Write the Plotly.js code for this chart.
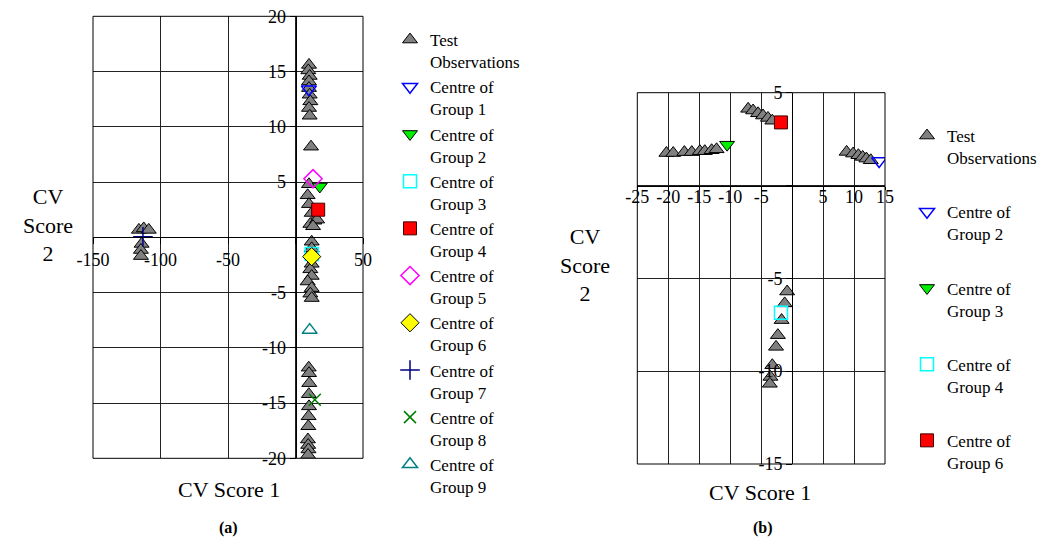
<!DOCTYPE html>
<html><head><meta charset="utf-8">
<script src="https://cdn.plot.ly/plotly-3.0.1.min.js"></script>
<style>html,body{margin:0;padding:0;background:#fff}#chart{width:1054px;height:550px}</style>
</head><body><div id="chart"></div>
<script>
// ---------- Panel (a) data ----------
const aTestX = [-116, -112.4, -108.7, -114, -114.5, -114.5,
  10, 9.5, 10.5, 10, 10, 10.5, 11, 10, 10.5,
  11.5,
  10, 9, 10, 12, 14, 11, 16, 13,
  12, 12, 12, 11, 12, 9, 12, 11, 12,
  9.8, 10, 10.2, 9.9, 10, 9.7, 9.5, 9.2, 9.4, 9.6, 9.3];
const aTestY = [0.67, 0.8, 0.67, -0.6, -1.15, -1.7,
  15.6, 15.1, 14.6, 14.1, 13.5, 12.9, 12.3, 11.7, 11.0,
  8.2,
  4.8, 3.8, 3.0, 2.2, 1.5, 1.2, 1.6, 1.0,
  -0.4, -1.0, -2.4, -2.9, -3.5, -4.0, -4.6, -5.1, -5.5,
  -11.8, -12.3, -13.2, -14.2, -15.3, -16.2, -17.1, -18.3, -18.8, -19.2, -19.7];
const aCentreNames = ['Centre of<br>Group 1', 'Centre of<br>Group 2', 'Centre of<br>Group 3',
  'Centre of<br>Group 4', 'Centre of<br>Group 5', 'Centre of<br>Group 6',
  'Centre of<br>Group 7', 'Centre of<br>Group 8', 'Centre of<br>Group 9'];
const aCentreX = [9.9, 18, 12, 16.8, 13, 12, -113, 14.3, 10.5];
const aCentreY = [13.4, 4.6, -1.5, 2.5, 5.3, -1.75, 0.05, -14.7, -8.4];
const aXTicks = [-150, -100, -50, 0, 50];
const aXTickText = ['-150', '-100', '-50', '', '50'];
const aYTicks = [-20, -15, -10, -5, 0, 5, 10, 15, 20];
const aYTickText = ['-20', '-15', '-10', '-5', '', '5', '10', '15', '20'];

// ---------- Panel (b) data ----------
const bTestX = [-20.3, -19.2, -17.4, -16.2, -14.9, -14.1, -13.0, -12.2,
  -7.1, -6.3, -5.5, -4.7, -3.9, -3.2,
  8.8, 9.85, 10.7, 11.4, 12.0, 12.7,
  -0.8, -1.2, -1.7, -2.3, -2.6, -3.2, -3.5, -3.6];
const bTestY = [1.75, 1.75, 1.8, 1.8, 1.85, 1.85, 1.9, 1.95,
  4.13, 4.04, 3.89, 3.77, 3.64, 3.49,
  1.81, 1.72, 1.63, 1.54, 1.45, 1.36,
  -5.71, -6.35, -7.25, -8.06, -8.69, -9.68, -10.31, -10.68];
const bCentreNames = ['Centre of<br>Group 2', 'Centre of<br>Group 3', 'Centre of<br>Group 4', 'Centre of<br>Group 6'];
const bCentreX = [14.05, -10.5, -1.8, -1.8];
const bCentreY = [1.32, 2.2, -6.85, 3.4];
const bXTicks = [-25, -20, -15, -10, -5, 0, 5, 10, 15];
const bXTickText = ['-25', '-20', '-15', '-10', '-5', '', '5', '10', '15'];
const bYTicks = [-15, -10, -5, 0, 5];
const bYTickText = ['-15', '-10', '-5', '', '5'];

const testName = 'Test<br>Observations';

// ---------- styles ----------
const FONT = 'Liberation Serif';
const W = 1054, H = 550;
const testMarker = {symbol: 'triangle-up', size: 13, color: '#808080', line: {color: '#000', width: 1}};
const aStyles = [
  {symbol: 'triangle-down-open', size: 13, color: '#0000ff', line: {color: '#0000ff', width: 1.5}},
  {symbol: 'triangle-down', size: 13, color: '#00ee00', line: {color: '#000', width: 1}},
  {symbol: 'square-open', size: 13, color: '#00ffff', line: {color: '#00ffff', width: 1.5}},
  {symbol: 'square', size: 13, color: '#ff0000', line: {color: '#400000', width: 1}},
  {symbol: 'diamond-open', size: 14, color: '#ff00ff', line: {color: '#ff00ff', width: 1.5}},
  {symbol: 'diamond', size: 14, color: '#ffff00', line: {color: '#000', width: 1}},
  {symbol: 'cross-thin-open', size: 14, color: '#000080', line: {color: '#000080', width: 1.5}},
  {symbol: 'x-thin-open', size: 12, color: '#008000', line: {color: '#008000', width: 1.5}},
  {symbol: 'triangle-up-open', size: 13, color: '#008080', line: {color: '#008080', width: 1.5}}
];
const bStyles = [aStyles[0], aStyles[1], aStyles[2], aStyles[3]];

const traces = [];
traces.push({type: 'scatter', mode: 'markers', x: aTestX, y: aTestY, name: testName,
  marker: testMarker, xaxis: 'x', yaxis: 'y', legend: 'legend'});
aCentreNames.forEach((n, i) => traces.push({type: 'scatter', mode: 'markers',
  x: [aCentreX[i]], y: [aCentreY[i]], name: n, marker: aStyles[i], xaxis: 'x', yaxis: 'y', legend: 'legend'}));
traces.push({type: 'scatter', mode: 'markers', x: bTestX, y: bTestY, name: testName,
  marker: testMarker, xaxis: 'x2', yaxis: 'y2', legend: 'legend2', legendgroup: 'b0'});
bCentreNames.forEach((n, i) => traces.push({type: 'scatter', mode: 'markers',
  x: [bCentreX[i]], y: [bCentreY[i]], name: n, marker: bStyles[i], xaxis: 'x2', yaxis: 'y2',
  legend: 'legend2', legendgroup: 'b' + (i + 1)}));

function pos(dom, range) { return dom[0] + (0 - range[0]) / (range[1] - range[0]) * (dom[1] - dom[0]); }

const aXDom = [93 / W, 363 / W], aYDom = [1 - 458.3 / H, 1 - 16.3 / H];
const bXDom = [637.3 / W, 885 / W], bYDom = [1 - 464 / H, 1 - 92.7 / H];
const aXR = [-150, 50], aYR = [-20, 20], bXR = [-25, 15], bYR = [-15, 5];

function axis(dom, range, tv, tt, p, extra) {
  return Object.assign({domain: dom, range: range, anchor: 'free', position: p,
    tickmode: 'array', tickvals: tv, ticktext: tt, ticks: 'outside', ticklen: 6, tickcolor: '#000',
    tickfont: {size: 18, color: '#000', family: FONT}, showgrid: true, gridcolor: '#222', gridwidth: 1,
    showline: true, linecolor: '#000', linewidth: 1, zeroline: false, fixedrange: true, automargin: false}, extra || {});
}

const ann = (text, px, py, size) => ({text: text, x: px / W, y: 1 - py / H, xref: 'paper', yref: 'paper',
  xanchor: 'center', yanchor: 'middle', showarrow: false, font: {size: size, family: FONT, color: '#000'}});

const layout = {
  width: W, height: H, margin: {l: 0, r: 0, t: 0, b: 0},
  paper_bgcolor: '#fff', plot_bgcolor: '#fff',
  font: {family: FONT, color: '#000'},
  showlegend: true,
  xaxis: axis(aXDom, aXR, aXTicks, aXTickText, pos(aYDom, aYR)),
  yaxis: axis(aYDom, aYR, aYTicks, aYTickText, pos(aXDom, aXR)),
  xaxis2: axis(bXDom, bXR, bXTicks, bXTickText, pos(bYDom, bYR), {ticklen: 3, ticklabelstandoff: -8}),
  yaxis2: axis(bYDom, bYR, bYTicks, bYTickText, pos(bXDom, bXR)),
  legend: {x: 390 / W, y: 1 - 22 / H, xanchor: 'left', yanchor: 'top', valign: 'top',
    traceorder: 'normal', font: {size: 17, family: FONT, color: '#000'}, bgcolor: 'rgba(0,0,0,0)'},
  legend2: {x: 907 / W, y: 1 - 118 / H, xanchor: 'left', yanchor: 'top', valign: 'top',
    traceorder: 'grouped', tracegroupgap: 29, font: {size: 17, family: FONT, color: '#000'}, bgcolor: 'rgba(0,0,0,0)'},
  shapes: [
    {type: 'rect', xref: 'x domain', yref: 'y domain', x0: 0, x1: 1, y0: 0, y1: 1, line: {color: '#000', width: 1}},
    {type: 'rect', xref: 'x2 domain', yref: 'y2 domain', x0: 0, x1: 1, y0: 0, y1: 1, line: {color: '#000', width: 1}}
  ],
  annotations: [
    ann('CV Score 1', 228.5, 489, 22),
    ann('CV<br>Score<br>2', 48, 225, 22),
    ann('CV Score 1', 760, 492, 22),
    ann('CV<br>Score<br>2', 585, 265, 22),
    ann('<b>(a)</b>', 228, 528, 16),
    ann('<b>(b)</b>', 763, 528, 16)
  ]
};

Plotly.newPlot('chart', traces, layout, {staticPlot: true, displayModeBar: false});
</script>
</body></html>
